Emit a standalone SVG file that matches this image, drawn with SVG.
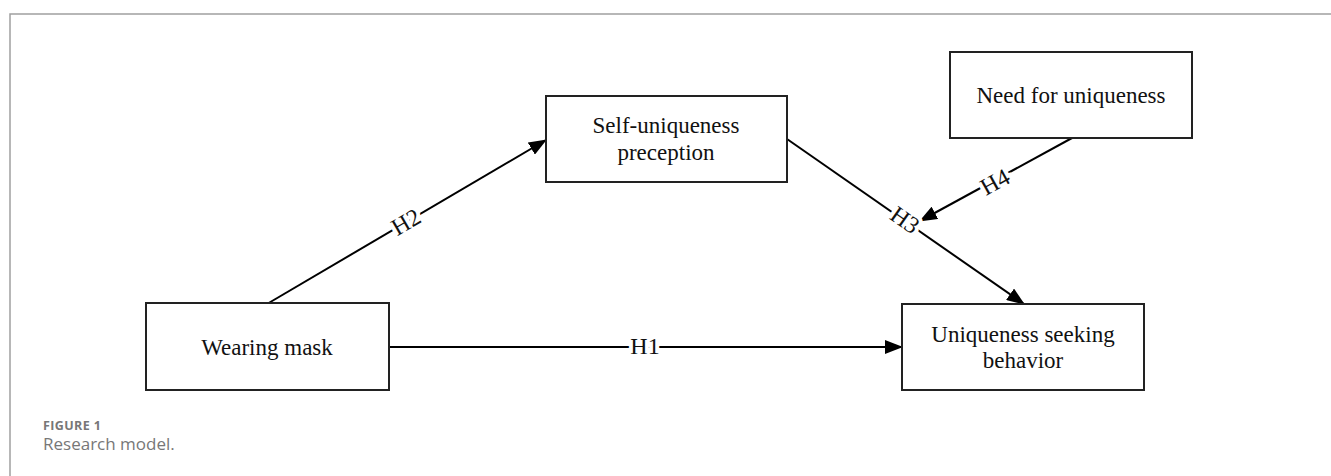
<svg xmlns="http://www.w3.org/2000/svg" width="1331" height="476" viewBox="0 0 1331 476">
<style>
.box{fill:#fff;stroke:#222;stroke-width:2}
.t{font-family:"Liberation Serif",serif;font-size:23px;fill:#111;text-anchor:middle}
.e{stroke:#000;stroke-width:2;fill:none}
.lab{font-family:"Liberation Serif",serif;font-size:24px;fill:#111;text-anchor:middle;dominant-baseline:central;stroke:#fff;stroke-width:8;paint-order:stroke}
.cap1{font-family:"Open Sans",sans-serif;font-size:12.5px;font-weight:bold;fill:#777;letter-spacing:0.4px}
.cap2{font-family:"Open Sans",sans-serif;font-size:17px;fill:#777}
</style>
<defs>
<marker id="ah" markerWidth="18" markerHeight="14" refX="17" refY="7" orient="auto" markerUnits="userSpaceOnUse">
<path d="M0,0 L18,7 L0,14 Z" fill="#000"/>
</marker>
</defs>
<rect width="1331" height="476" fill="#fff"/>
<path d="M10,476 V14 H1331" fill="none" stroke="#a0a0a0" stroke-width="1.5"/>
<g id="connectors">
<line class="e" x1="267" y1="304" x2="546" y2="140" marker-end="url(#ah)"/>
<line class="e" x1="389" y1="347" x2="902" y2="347" marker-end="url(#ah)"/>
<line class="e" x1="787" y1="139" x2="1024" y2="304" marker-end="url(#ah)"/>
<line class="e" x1="1072" y1="138" x2="920" y2="221" marker-end="url(#ah)"/>
<text class="lab" transform="translate(406,222) rotate(-30)">H2</text>
<text class="lab" transform="translate(645,346)">H1</text>
<text class="lab" transform="translate(905,220) rotate(35)">H3</text>
<text class="lab" transform="translate(995,182) rotate(-29)">H4</text>
</g>
<g id="wearing-mask">
<rect class="box" x="146" y="303" width="243" height="87"/>
<text class="t" x="267" y="355">Wearing mask</text>
</g>
<g id="self-uniqueness">
<rect class="box" x="546" y="96" width="241" height="86"/>
<text class="t" x="666" y="133">Self-uniqueness</text>
<text class="t" x="666" y="160">preception</text>
</g>
<g id="need-for-uniqueness">
<rect class="box" x="950" y="52" width="242" height="86"/>
<text class="t" x="1071" y="103">Need for uniqueness</text>
</g>
<g id="uniqueness-seeking">
<rect class="box" x="902" y="304" width="242" height="86"/>
<text class="t" x="1023" y="342">Uniqueness seeking</text>
<text class="t" x="1023" y="368">behavior</text>
</g>
<text class="cap1" x="43" y="430">FIGURE 1</text>
<text class="cap2" x="43" y="450">Research model.</text>
</svg>
